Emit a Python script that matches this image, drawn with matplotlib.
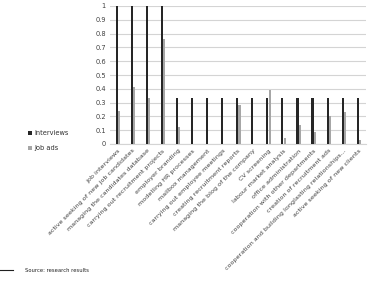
import matplotlib
matplotlib.use('Agg')
import matplotlib.pyplot as plt
import numpy as np

# data
categories = [
    'job interviews',
    'active seeking of new job candidates',
    'managing the candidates database',
    'carrying out recruitment projects',
    'employer branding',
    'modelling HR processes',
    'mailbox management',
    'carrying out employee meetings',
    'creating recruitment reports',
    'managing the blog of the company',
    'CV screening',
    'labour market analysis',
    'office administration',
    'cooperation with other departments',
    'creation of recruitment ads',
    'cooperation and building longlasting relationships...',
    'active seeking of new clients',
]
interviews = [1, 1, 1, 1, 0.33, 0.33, 0.33, 0.33, 0.33, 0.33, 0.33, 0.33, 0.33, 0.33, 0.33, 0.33, 0.33]
job_ads = [0.24, 0.41, 0.33, 0.76, 0.12, 0, 0, 0, 0.28, 0, 0.39, 0.04, 0.14, 0.09, 0.20, 0.23, 0.03]
yticks = [0, 0.1, 0.2, 0.3, 0.4, 0.5, 0.6, 0.7, 0.8, 0.9, 1]
ytick_labels = ['0', '0.1', '0.2', '0.3', '0.4', '0.5', '0.6', '0.7', '0.8', '0.9', '1']

fig = plt.figure(figsize=(3.71, 2.99), dpi=100)
ax = fig.add_axes([110 / 371, 1 - 144 / 299, 256 / 371, 138 / 299])

x = np.arange(len(categories))
bw = 0.14
ax.bar(x - 0.05, interviews, width=bw, color='#262626', label='Interviews', zorder=3)
ax.bar(x + 0.1, job_ads, width=bw, color='#a6a6a6', label='Job ads', zorder=3)

ax.set_xlim(-0.5, len(categories) - 0.5)
ax.set_ylim(0, 1)
ax.set_yticks(yticks)
ax.set_yticklabels(ytick_labels, fontsize=4.8, color='#404040')
ax.yaxis.grid(True, color='#d4d4d4', linewidth=0.8, zorder=0)
ax.set_axisbelow(True)
ax.tick_params(axis='both', length=0, pad=3)
ax.set_xticks(x)
ax.set_xticklabels(categories, rotation=45, ha='right', rotation_mode='anchor',
                   fontsize=4.6, color='#404040')
for s in ax.spines.values():
    s.set_visible(False)
ax.spines['bottom'].set_visible(True)
ax.spines['bottom'].set_color('#d4d4d4')

fig.legend(loc='upper left', bbox_to_anchor=(22 / 371, 1 - 124 / 299), frameon=False,
           fontsize=4.8, handlelength=0.6, handleheight=0.6, handletextpad=0.3,
           labelspacing=1.4, labelcolor='#303030')

# source note
fig.add_artist(plt.Line2D([0, 13 / 371], [1 - 270 / 299] * 2, color='#202020', linewidth=0.8))
fig.text(25 / 371, 1 - 270 / 299, 'Source: research results', fontsize=4.2,
         va='center', ha='left', color='#202020', stretch='condensed')

fig.savefig('out.png', dpi=100)
plt.close(fig)
